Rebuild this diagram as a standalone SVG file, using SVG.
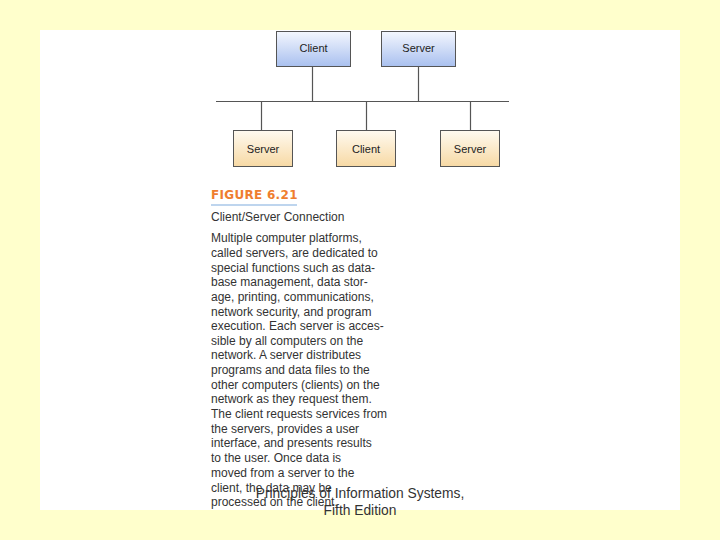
<svg xmlns="http://www.w3.org/2000/svg" width="720" height="540" viewBox="0 0 720 540">
<defs>
<linearGradient id="gBlue" x1="0" y1="0" x2="0" y2="1">
<stop offset="0" stop-color="#f4f7fe"/>
<stop offset="1" stop-color="#a9c0ef"/>
</linearGradient>
<linearGradient id="gTan" x1="0" y1="0" x2="0" y2="1">
<stop offset="0" stop-color="#fffaf0"/>
<stop offset="1" stop-color="#f7d9a4"/>
</linearGradient>
<style>
.box{stroke:#555;stroke-width:1}
.lbl{font-family:"Liberation Sans",Arial,sans-serif;font-size:11px;fill:#222;text-anchor:middle}
.wire{stroke:#555;stroke-width:1.2;fill:none}
.body{font-family:"Liberation Sans",Arial,sans-serif;font-size:12px;fill:#333}
.foot{font-family:"Liberation Sans",Arial,sans-serif;font-size:13.8px;fill:#333;text-anchor:middle}
</style>
</defs>
<rect x="0" y="0" width="720" height="540" fill="#ffffcc"/>
<rect x="40" y="30" width="640" height="480" fill="#ffffff"/>
<g id="connectors">
<line class="wire" x1="216" y1="101.5" x2="509" y2="101.5"/>
<line class="wire" x1="312.5" y1="67" x2="312.5" y2="101"/>
<line class="wire" x1="418.5" y1="67" x2="418.5" y2="101"/>
<line class="wire" x1="261.5" y1="101" x2="261.5" y2="130"/>
<line class="wire" x1="366.5" y1="101" x2="366.5" y2="130"/>
<line class="wire" x1="470.5" y1="101" x2="470.5" y2="130"/>
</g>
<g id="client-top">
<rect class="box" x="276.5" y="31.5" width="74" height="35" fill="url(#gBlue)"/>
<text class="lbl" x="313.5" y="52">Client</text>
</g>
<g id="server-top">
<rect class="box" x="381.5" y="31.5" width="74" height="35" fill="url(#gBlue)"/>
<text class="lbl" x="418.5" y="52">Server</text>
</g>
<g id="server-left">
<rect class="box" x="233.5" y="130.5" width="59" height="36" fill="url(#gTan)"/>
<text class="lbl" x="263" y="153">Server</text>
</g>
<g id="client-mid">
<rect class="box" x="336.5" y="130.5" width="59" height="36" fill="url(#gTan)"/>
<text class="lbl" x="366" y="153">Client</text>
</g>
<g id="server-right">
<rect class="box" x="440.5" y="130.5" width="59" height="36" fill="url(#gTan)"/>
<text class="lbl" x="470" y="153">Server</text>
</g>
<g id="caption">
<text x="211" y="199" font-family="'DejaVu Sans',sans-serif" font-weight="bold" font-size="12" fill="#ef7d2e" letter-spacing="0.3">FIGURE 6.21</text>
<line x1="211" y1="205" x2="297" y2="205" stroke="#a9c7e8" stroke-width="1.5"/>
<text class="body" x="211" y="221">Client/Server Connection</text>
<text class="body">
<tspan x="211" y="242">Multiple computer platforms,</tspan>
<tspan x="211" y="257">called servers, are dedicated to</tspan>
<tspan x="211" y="272">special functions such as data-</tspan>
<tspan x="211" y="286">base management, data stor-</tspan>
<tspan x="211" y="301">age, printing, communications,</tspan>
<tspan x="211" y="316">network security, and program</tspan>
<tspan x="211" y="330">execution. Each server is acces-</tspan>
<tspan x="211" y="345">sible by all computers on the</tspan>
<tspan x="211" y="359">network. A server distributes</tspan>
<tspan x="211" y="374">programs and data files to the</tspan>
<tspan x="211" y="389">other computers (clients) on the</tspan>
<tspan x="211" y="403">network as they request them.</tspan>
<tspan x="211" y="418">The client requests services from</tspan>
<tspan x="211" y="433">the servers, provides a user</tspan>
<tspan x="211" y="447">interface, and presents results</tspan>
<tspan x="211" y="462">to the user. Once data is</tspan>
<tspan x="211" y="477">moved from a server to the</tspan>
<tspan x="211" y="492">client, the data may be</tspan>
<tspan x="211" y="506">processed on the client.</tspan>
</text>
</g>
<g id="footer">
<text class="foot" x="360" y="498">Principles of Information Systems,</text>
<text class="foot" x="360" y="515">Fifth Edition</text>
</g>
</svg>
